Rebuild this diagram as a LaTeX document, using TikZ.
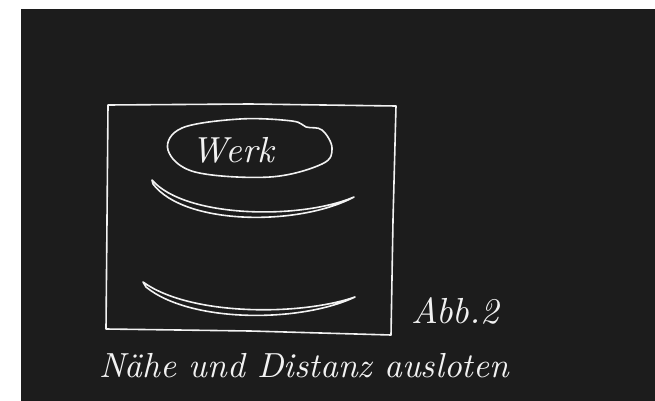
\documentclass[tikz,border=0pt]{standalone}
\usepackage{graphicx}
\definecolor{board}{HTML}{1C1C1C}
\definecolor{chalk}{HTML}{F2F2F2}
\tikzset{
  pen/.style={draw=chalk, line width=1.6pt, line cap=round, line join=round},
  hand/.style={text=chalk, inner sep=0pt, font=\itshape}
}
\begin{document}
\begin{tikzpicture}[x=1pt,y=-1pt]
\useasboundingbox (0,0) rectangle (655,401);
\fill[white] (0,0) rectangle (655,401);
\fill[board] (21,9) rectangle (655,401);
% frame
\draw[pen] (108,105) -- (250,104) -- (396,106) -- (393,220) -- (391,335) -- (250,331) -- (106,329) -- (107,220) -- cycle;
% Werk cloud/ellipse
\draw[pen] plot[smooth cycle, tension=0.6] coordinates {(168,150) (182,128) (240,119) (292,121) (306,127) (322,130) (332,148) (322,164) (270,177) (195,172)};
\node[hand] (werk) at (233,150) {\resizebox{82pt}{!}{Werk}};
% upper crescent
\draw[pen] (152,180) .. controls (185,218) and (300,220) .. (354,197)
  .. controls (300,226) and (185,226) .. (153,184) -- cycle;
% lower crescent
\draw[pen] (143,282) .. controls (190,316) and (300,316) .. (355,297)
  .. controls (300,323) and (190,323) .. (146,287) -- cycle;
% labels
\node[hand] (abb) at (455,311) {\resizebox{88pt}{!}{Abb.2}};
\node[hand] (caption) at (304,366) {\resizebox{410pt}{!}{N\"ahe und Distanz ausloten}};
\end{tikzpicture}
\end{document}
